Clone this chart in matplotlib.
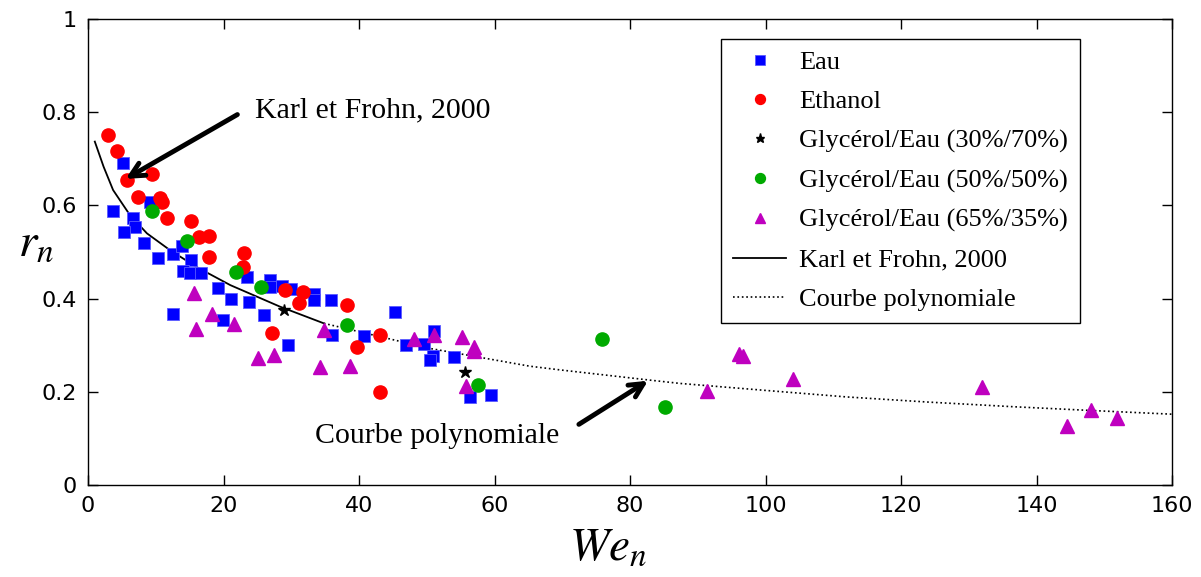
import numpy as np
import matplotlib
matplotlib.use('Agg')
import matplotlib.pyplot as plt

plt.rcParams['mathtext.fontset'] = 'stix'

# Eau
eau_x = [5.1, 3.7, 9.2, 6.7, 6.9, 5.3, 8.2, 10.4, 12.5, 13.9, 15.2, 14.0, 15.1, 16.7, 23.4, 19.2,
         21.1, 23.8, 26.8, 26.8, 26.0, 12.6, 19.9, 28.7, 30.0, 33.4, 33.4, 35.8, 29.5, 36.0, 40.7,
         45.3, 47.0, 49.6, 51.1, 50.9, 50.5, 54.0, 56.4, 59.5]
eau_y = [0.690, 0.589, 0.608, 0.572, 0.554, 0.544, 0.519, 0.488, 0.495, 0.513, 0.483, 0.460, 0.454,
         0.454, 0.447, 0.422, 0.400, 0.393, 0.441, 0.426, 0.365, 0.368, 0.354, 0.427, 0.420, 0.410,
         0.397, 0.396, 0.300, 0.322, 0.320, 0.372, 0.300, 0.302, 0.330, 0.277, 0.268, 0.274, 0.188,
         0.193]

# Ethanol
eth_x = [3.0, 4.3, 5.7, 9.4, 7.4, 10.6, 10.9, 11.7, 15.2, 16.4, 17.8, 17.8, 23.0, 22.8, 29.0, 31.7,
         31.1, 38.2, 27.1, 39.7, 43.1, 43.1]
eth_y = [0.751, 0.717, 0.654, 0.667, 0.619, 0.615, 0.607, 0.573, 0.567, 0.533, 0.535, 0.490, 0.498,
         0.468, 0.418, 0.415, 0.391, 0.386, 0.327, 0.297, 0.322, 0.200]

# Glycerol / eau
g30_x = [28.9, 55.6]
g30_y = [0.375, 0.242]
g50_x = [9.4, 14.6, 21.8, 25.5, 38.2, 57.5, 75.9, 85.1]
g50_y = [0.589, 0.524, 0.458, 0.426, 0.343, 0.215, 0.313, 0.167]
g65_x = [15.7, 18.3, 16.0, 21.6, 25.1, 27.4, 34.8, 34.3, 38.6, 48.1, 51.1, 55.2, 57.0, 56.9, 55.8,
         91.3, 96.1, 96.6, 104.1, 131.9, 144.5, 148.1, 151.9]
g65_y = [0.413, 0.368, 0.335, 0.346, 0.273, 0.279, 0.333, 0.253, 0.256, 0.313, 0.323, 0.318, 0.297,
         0.288, 0.212, 0.202, 0.281, 0.277, 0.227, 0.210, 0.127, 0.160, 0.143]

# courbes
karl_x = [1.0, 2.3, 3.7, 6.2, 8.7, 12.1, 16.0, 21.0, 28.3, 34.8]
karl_y = [0.737, 0.683, 0.633, 0.579, 0.540, 0.504, 0.468, 0.429, 0.383, 0.347]
poly_x = [34.8, 50.5, 65.2, 69.7, 83.0, 87.4, 99.2, 112.0, 124.0, 136.6, 148.0, 160.0]
poly_y = [0.347, 0.293, 0.255, 0.247, 0.225, 0.218, 0.204, 0.189, 0.178, 0.168, 0.160, 0.152]

fig = plt.figure(figsize=(12.01, 5.77), dpi=100)
ax = fig.add_axes([0.0733, 0.1594, 0.9026, 0.8076])

ax.plot(karl_x, karl_y, '-', color='black', lw=1.3, label='Karl et Frohn, 2000', zorder=2)
ax.plot(poly_x, poly_y, ':', color='black', lw=1.2, label='Courbe polynomiale', zorder=2)

ax.plot(eau_x, eau_y, 's', color='#0000ff', mec='#5a5aff', mew=0.6, ms=9, label='Eau', zorder=3)
ax.plot(eth_x, eth_y, 'o', color='#ff0000', mec='#ff0000', ms=9.5, label='Ethanol', zorder=3)
ax.plot(g30_x, g30_y, '*', color='black', ms=9, label='Glycérol/Eau (30%/70%)', zorder=4)
ax.plot(g50_x, g50_y, 'o', color='#00aa00', mec='#00aa00', ms=9.5, label='Glycérol/Eau (50%/50%)', zorder=3)
ax.plot(g65_x, g65_y, '^', color='#bf00bf', mec='#bf00bf', ms=10, label='Glycérol/Eau (65%/35%)', zorder=3)

ax.set_xlim(0, 160)
ax.set_ylim(0, 1)
ax.set_xticks(np.arange(0, 161, 20))
ax.set_yticks([0, 0.2, 0.4, 0.6, 0.8, 1])
ax.set_yticklabels(['0', '0.2', '0.4', '0.6', '0.8', '1'])
ax.tick_params(direction='in', top=True, right=True, length=7, width=1, labelsize=16, pad=8)
for s in ax.spines.values():
    s.set_linewidth(1.0)

ax.set_xlabel('$We_n$', fontsize=34, labelpad=2)
ax.xaxis.set_label_coords(0.48, -0.085)
ax.set_ylabel('$r_n$', fontsize=34, rotation=0, labelpad=22)
ax.yaxis.set_label_coords(-0.048, 0.47)

handles, labels = ax.get_legend_handles_labels()
order = [2, 3, 4, 5, 6, 0, 1]
leg = ax.legend([handles[i] for i in order], [labels[i] for i in order],
                loc='upper right', bbox_to_anchor=(0.915, 0.958), fancybox=False,
                edgecolor='black', framealpha=1, labelspacing=0.6, handlelength=2.0,
                handletextpad=0.5, markerscale=0.75, borderpad=0.45, borderaxespad=0,
                prop={'family': 'Liberation Serif', 'size': 19})
leg.get_frame().set_linewidth(1.0)

serif = {'family': 'Liberation Serif', 'size': 21.5}
ax.annotate('', xy=(5.2, 0.654), xytext=(22.4, 0.798),
            arrowprops=dict(arrowstyle='->', lw=3.5, color='black', mutation_scale=25))
ax.text(24.6, 0.805, 'Karl et Frohn, 2000', va='center', ha='left', **serif)
ax.annotate('', xy=(83.0, 0.227), xytext=(72.1, 0.127),
            arrowprops=dict(arrowstyle='->', lw=3.5, color='black', mutation_scale=25))
ax.text(33.5, 0.105, 'Courbe polynomiale', va='center', ha='left', **serif)

fig.savefig('out.png', dpi=100)
